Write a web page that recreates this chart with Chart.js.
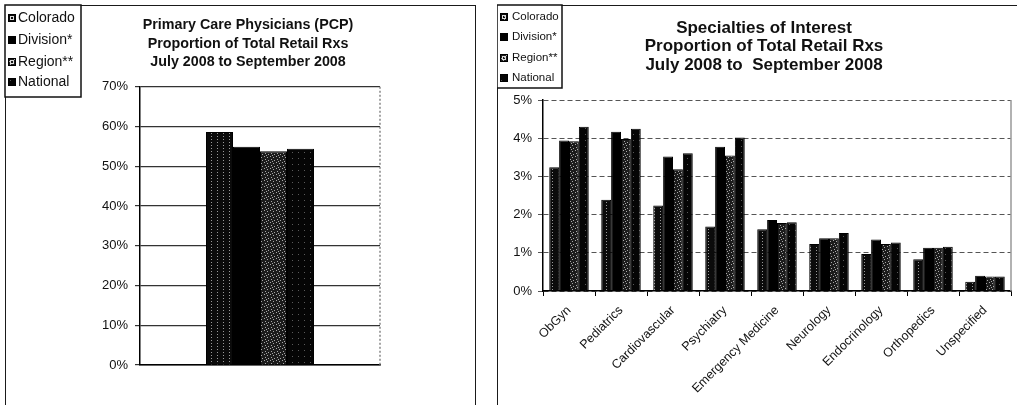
<!DOCTYPE html>
<html>
<head>
<meta charset="utf-8">
<script src="https://cdn.jsdelivr.net/npm/chart.js@4.4.1/dist/chart.umd.min.js"></script>
<style>
  html, body { margin: 0; padding: 0; background: #fff; overflow: hidden; width: 1017px; height: 405px; }
  .panel { position: absolute; border: 1.5px solid #1a1a1a; box-sizing: border-box; }
  #p1 { left: 5px; top: 5px; width: 471px; height: 440px; }
  #p2 { left: 497px; top: 5px; width: 560px; height: 440px; }
  .wrap { position: absolute; top: 0; }
  #w1 { left: 0; width: 496px; height: 405px; }
  #w2 { left: 497px; width: 534px; height: 405px; }
</style>
</head>
<body>
<div class="panel" id="p1"></div>
<div class="panel" id="p2"></div>
<div class="wrap" id="w1"><canvas id="c1" width="496" height="405" style="width:496px;height:405px"></canvas></div>
<div class="wrap" id="w2"><canvas id="c2" width="534" height="405" style="width:534px;height:405px"></canvas></div>
<script>
// ---- data ----
const seriesNames = ['Colorado', 'Division*', 'Region**', 'National'];

const pcpCategories = ['Primary Care Physicians (PCP)'];
const pcpColorado = [58.6];
const pcpDivision = [54.9];
const pcpRegion   = [53.8];
const pcpNational = [54.4];
const pcpTicks = [0, 10, 20, 30, 40, 50, 60, 70];

const specCategories = ['ObGyn', 'Pediatrics', 'Cardiovascular', 'Psychiatry', 'Emergency Medicine',
                        'Neurology', 'Endocrinology', 'Orthopedics', 'Unspecified'];
const specColorado = [3.24, 2.39, 2.24, 1.69, 1.62, 1.23, 0.97, 0.83, 0.24];
const specDivision = [3.94, 4.17, 3.52, 3.78, 1.86, 1.38, 1.35, 1.13, 0.40];
const specRegion   = [3.92, 3.98, 3.19, 3.55, 1.78, 1.38, 1.23, 1.13, 0.38];
const specNational = [4.30, 4.25, 3.61, 4.02, 1.80, 1.52, 1.27, 1.16, 0.38];
const specTicks = [0, 1, 2, 3, 4, 5];

// ---- fills: dark halftone-style patterns ----
function makePattern(bg, dot, cells) {
  const c = document.createElement('canvas');
  c.width = 6; c.height = 6;
  const g = c.getContext('2d');
  g.fillStyle = bg; g.fillRect(0, 0, 6, 6);
  g.fillStyle = dot;
  cells.forEach(([x, y]) => g.fillRect(x, y, 1, 1));
  return g.createPattern(c, 'repeat');
}
const fills = [
  makePattern('#0b0b0b', '#9a9a9a', [[1, 1], [1, 4]]),
  '#000000',
  makePattern('#1c1c1c', '#a8a8a8', [[0, 0], [3, 1], [1, 3], [4, 4], [2, 5]]),
  makePattern('#050505', '#5a5a5a', [[4, 2]])
];

// ---- boxed legend drawn on the canvas ----
const boxLegend = {
  id: 'boxLegend',
  afterDraw(chart, args, o) {
    const ctx = chart.ctx;
    ctx.save();
    ctx.fillStyle = '#fff';
    ctx.fillRect(o.x, o.y, o.w, o.h);
    ctx.lineWidth = 1.5;
    ctx.strokeStyle = '#111';
    ctx.strokeRect(o.x, o.y, o.w, o.h);
    ctx.font = o.font;
    ctx.textBaseline = 'middle';
    chart.data.datasets.forEach((ds, i) => {
      const cy = o.rows[i];
      ctx.fillStyle = ds.backgroundColor;
      ctx.fillRect(o.mx, cy - o.ms / 2, o.ms, o.ms);
      ctx.lineWidth = 1;
      ctx.strokeStyle = '#000';
      ctx.strokeRect(o.mx + 0.5, cy - o.ms / 2 + 0.5, o.ms - 1, o.ms - 1);
      if (i === 0 || i === 2) {
        ctx.strokeStyle = '#ddd';
        ctx.strokeRect(o.mx + 2.5, cy - o.ms / 2 + 2.5, o.ms - 5, o.ms - 5);
      }
      ctx.fillStyle = '#111';
      ctx.fillText(ds.label, o.tx, cy);
    });
    ctx.restore();
  }
};

// ---- right edge of the plot frame ----
const plotFrame = {
  id: 'plotFrame',
  beforeDatasetsDraw(chart, args, o) {
    const a = chart.chartArea, ctx = chart.ctx;
    ctx.save();
    ctx.strokeStyle = o.color;
    ctx.lineWidth = 1.5;
    ctx.setLineDash(o.dash);
    ctx.beginPath();
    ctx.moveTo(a.right, a.top);
    ctx.lineTo(a.right, a.bottom);
    ctx.stroke();
    ctx.restore();
  }
};

function makeDatasets(values, catPct) {
  return values.map((v, i) => ({
    label: seriesNames[i],
    data: v,
    backgroundColor: fills[i],
    borderColor: '#000',
    borderWidth: 1,
    categoryPercentage: catPct,
    barPercentage: 1
  }));
}

// empty right-hand axis that only reserves space beside the plot
function spacerAxis(width) {
  return {
    type: 'linear', position: 'right', display: true,
    ticks: { display: false }, grid: { display: false }, border: { display: false },
    afterFit: s => { s.width = width; }
  };
}

const fontFamily = '"Liberation Sans", Arial, Helvetica, sans-serif';

// ---- Primary care chart ----
new Chart(document.getElementById('c1'), {
  type: 'bar',
  data: {
    labels: pcpCategories,
    datasets: makeDatasets([pcpColorado, pcpDivision, pcpRegion, pcpNational], 0.45)
  },
  plugins: [boxLegend, plotFrame],
  options: {
    responsive: false,
    animation: false,
    devicePixelRatio: 1,
    layout: { padding: 0 },
    plugins: {
      legend: { display: false },
      tooltip: { enabled: false },
      title: {
        display: true,
        text: ['Primary Care Physicians (PCP)', 'Proportion of Total Retail Rxs', 'July 2008 to September 2008'],
        color: '#111',
        font: { family: fontFamily, size: 14.3, weight: 'bold', lineHeight: 1.3 },
        padding: { top: 16, bottom: 15 }
      },
      boxLegend: { x: 5, y: 5, w: 76, h: 92, rows: [18, 40, 62, 82], mx: 8, ms: 8, tx: 18,
                   font: '14px ' + fontFamily },
      plotFrame: { color: '#888', dash: [2, 2] }
    },
    scales: {
      x: {
        ticks: { display: false },
        grid: { display: false },
        border: { display: true, color: '#000', width: 1.5 },
        afterFit: s => { s.height = 40; }
      },
      y: {
        min: 0, max: 70,
        afterBuildTicks: s => { s.ticks = pcpTicks.map(v => ({ value: v })); },
        ticks: { callback: v => v + '%', color: '#111', padding: 7,
                 font: { family: fontFamily, size: 13 } },
        grid: { color: '#333', lineWidth: 1.2, tickLength: 5 },
        border: { display: true, color: '#000', width: 1.5 },
        afterFit: s => { s.width = 140; }
      },
      spacer: spacerAxis(116)
    }
  }
});

// ---- Specialties chart ----
new Chart(document.getElementById('c2'), {
  type: 'bar',
  data: {
    labels: specCategories,
    datasets: makeDatasets([specColorado, specDivision, specRegion, specNational], 0.76)
  },
  plugins: [boxLegend, plotFrame],
  options: {
    responsive: false,
    animation: false,
    devicePixelRatio: 1,
    layout: { padding: 0 },
    plugins: {
      legend: { display: false },
      tooltip: { enabled: false },
      title: {
        display: true,
        text: ['Specialties of Interest', 'Proportion of Total Retail Rxs', 'July 2008 to  September 2008'],
        color: '#111',
        font: { family: fontFamily, size: 17, weight: 'bold', lineHeight: 1.1 },
        padding: { top: 18.5, bottom: 25.5 }
      },
      boxLegend: { x: 0, y: 5, w: 65, h: 83, rows: [17, 37, 58, 78], mx: 3, ms: 8, tx: 15,
                   font: '11.5px ' + fontFamily },
      plotFrame: { color: '#999', dash: [] }
    },
    scales: {
      x: {
        ticks: { color: '#111', minRotation: 45, maxRotation: 45, padding: 7,
                 font: { family: fontFamily, size: 12.5 } },
        grid: { drawOnChartArea: false, color: '#000', tickLength: 5 },
        border: { display: true, color: '#000', width: 1.5 },
        afterFit: s => { s.height = 114; }
      },
      y: {
        min: 0, max: 5,
        afterBuildTicks: s => { s.ticks = specTicks.map(v => ({ value: v })); },
        ticks: { callback: v => v + '%', color: '#111', padding: 6,
                 font: { family: fontFamily, size: 13 } },
        grid: { color: '#555', lineWidth: 1, tickLength: 5 },
        border: { display: true, color: '#000', width: 1.5, dash: [5, 3] },
        afterFit: s => { s.width = 46; }
      },
      spacer: spacerAxis(20)
    }
  }
});
</script>
</body>
</html>
